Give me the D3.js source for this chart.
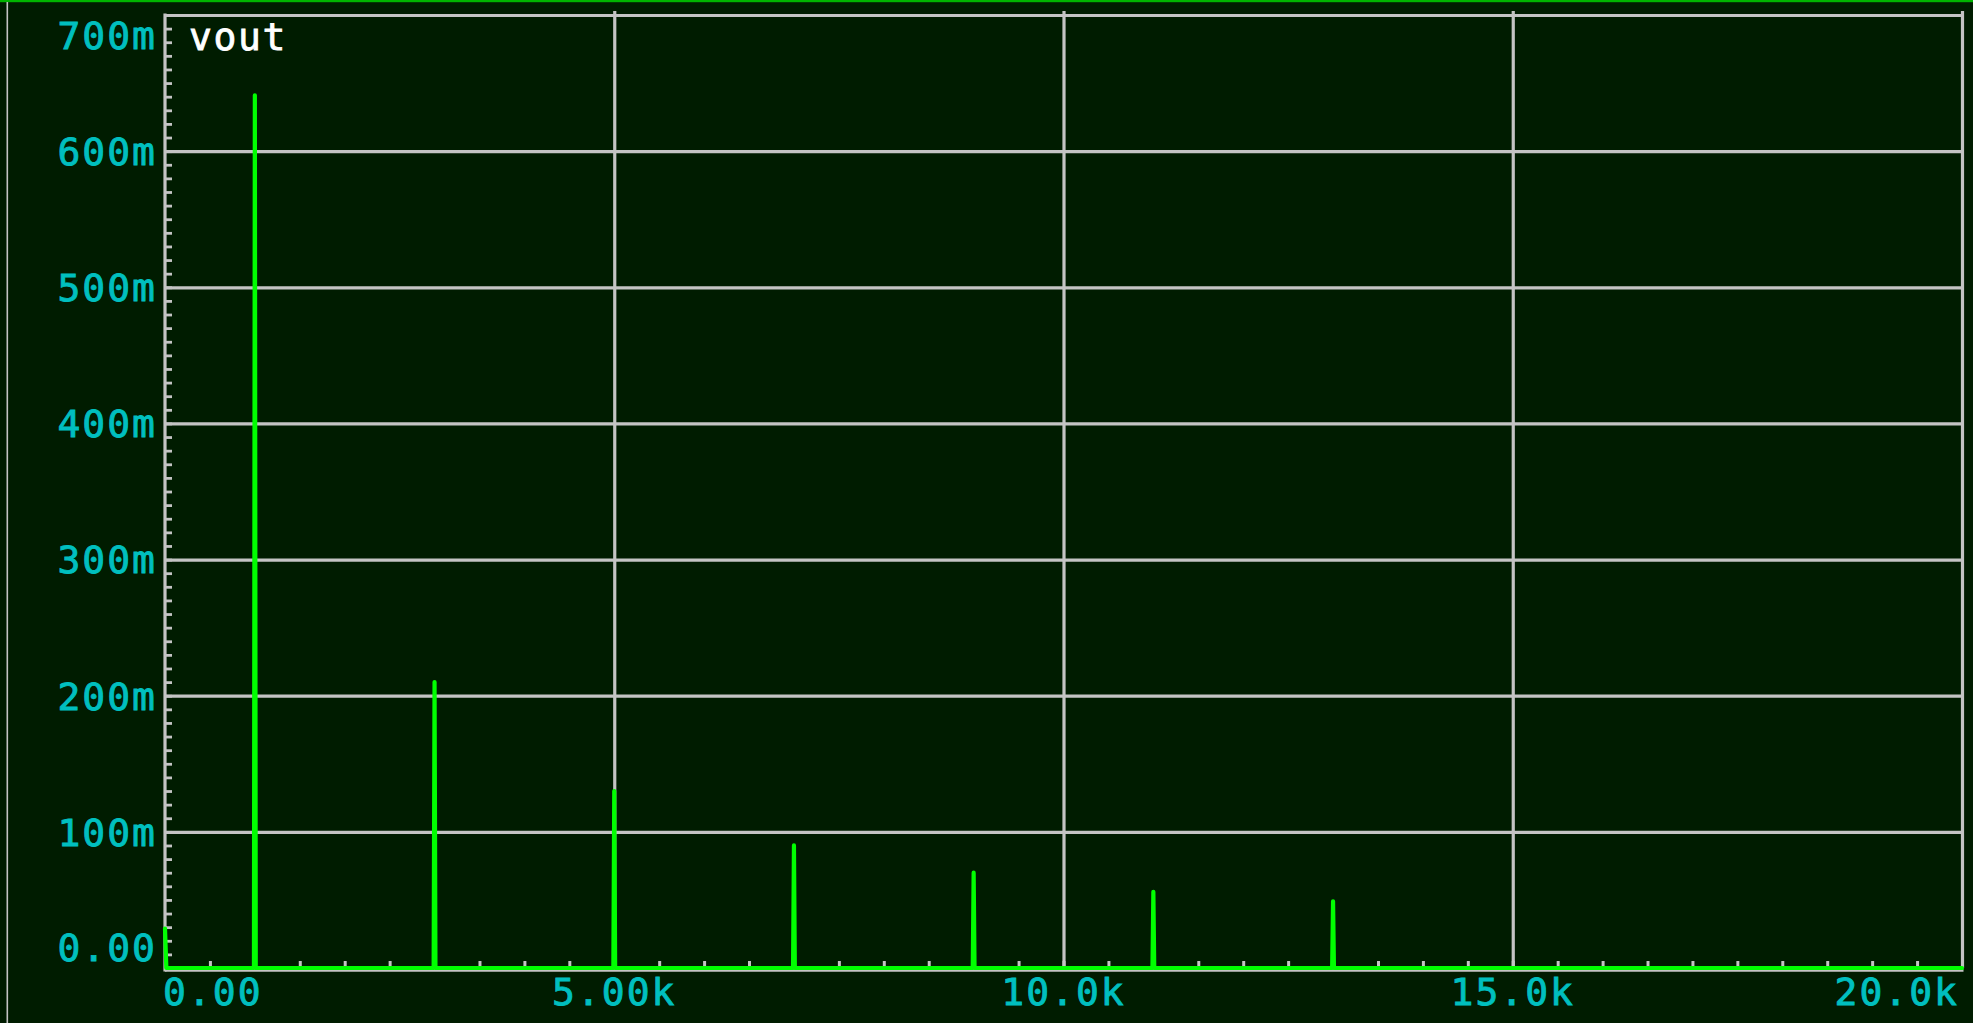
<!DOCTYPE html>
<html>
<head>
<meta charset="utf-8">
<script src="https://cdn.jsdelivr.net/npm/d3@7/dist/d3.min.js"></script>
<style>
  html, body { margin: 0; padding: 0; background: #001c00; overflow: hidden; }
  svg { display: block; }
  text { font-family: "DejaVu Sans Mono", monospace; }
</style>
</head>
<body>
<script>
// Spectrum of vout: sample points of the trace (Hz, V)
const traceFreq = [0, 15, 990, 1000, 1010, 2990, 3000, 3010, 4990, 5000, 5010,
                   6990, 7000, 7010, 8990, 9000, 9010, 10990, 11000, 11010,
                   12990, 13000, 13010, 20000];
const traceMag  = [0.029, 0, 0, 0.641, 0, 0, 0.210, 0, 0, 0.130, 0,
                   0, 0.090, 0, 0, 0.070, 0, 0, 0.056, 0,
                   0, 0.049, 0, 0];

// Axis ticks and labels
const yMajorValues = [0, 0.1, 0.2, 0.3, 0.4, 0.5, 0.6, 0.7];
const yTickLabels  = ["0.00", "100m", "200m", "300m", "400m", "500m", "600m", "700m"];
const xMajorValues = [0, 5000, 10000, 15000, 20000];
const xTickLabels  = ["0.00", "5.00k", "10.0k", "15.0k", "20.0k"];
const traceName = "vout";

const W = 1973, H = 1023;
const plotLeft = 165, plotRight = 1962, plotTop = 15, zeroY = 968;
const grid = "#c4c4c4", labelColor = "#00bfbf", traceColor = "#00ff00";

const x = d3.scaleLinear().domain([0, 20000]).range([plotLeft, plotRight]);
const y = d3.scaleLinear().domain([0, 0.7]).range([zeroY, plotTop]);

const svg = d3.select("body").append("svg")
  .attr("width", W).attr("height", H);

svg.append("rect").attr("width", W).attr("height", H).attr("fill", "#001c00");

// window frame: green strip on top, thin gray rule on the left
svg.append("rect").attr("x", 0).attr("y", 0).attr("width", W).attr("height", 2.2).attr("fill", "#00b400");
svg.append("rect").attr("x", 6.5).attr("y", 2).attr("width", 1.6).attr("height", H).attr("fill", grid);

// horizontal grid lines at each 100m
svg.append("g")
  .attr("transform", `translate(${plotLeft},0)`)
  .call(d3.axisRight(y).tickValues(yMajorValues.slice(1)).tickSize(plotRight - plotLeft).tickFormat(""))
  .call(g => g.select(".domain").remove())
  .call(g => g.selectAll("line").attr("stroke", grid).attr("stroke-width", 3.2));

// vertical grid lines at each 5k
svg.append("g")
  .attr("transform", `translate(0,${zeroY})`)
  .call(d3.axisTop(x).tickValues(xMajorValues.slice(1)).tickSize(zeroY - plotTop + 4).tickFormat(""))
  .call(g => g.select(".domain").remove())
  .call(g => g.selectAll("line").attr("stroke", grid).attr("stroke-width", 3.2));

// minor ticks on the y axis (every 10m) drawn inside the plot
svg.append("g")
  .attr("transform", `translate(${plotLeft},0)`)
  .call(d3.axisRight(y).tickValues(d3.range(0, 71).map(i => i / 100)).tickSize(7).tickFormat(""))
  .call(g => g.select(".domain").remove())
  .call(g => g.selectAll("line").attr("stroke", grid).attr("stroke-width", 2.8));

// minor ticks on the x axis (every 500 Hz)
svg.append("g")
  .attr("transform", `translate(0,${zeroY - 1})`)
  .call(d3.axisTop(x).tickValues(d3.range(1, 40).map(i => i * 500)).tickSize(6).tickFormat(""))
  .call(g => g.select(".domain").remove())
  .call(g => g.selectAll("line").attr("stroke", grid).attr("stroke-width", 3));

// axis lines
svg.append("line").attr("x1", plotLeft).attr("x2", plotLeft).attr("y1", plotTop - 1.5).attr("y2", zeroY + 3.5)
  .attr("stroke", grid).attr("stroke-width", 3.2);
svg.append("line").attr("x1", plotLeft).attr("x2", plotRight + 1.5).attr("y1", zeroY + 2.5).attr("y2", zeroY + 2.5)
  .attr("stroke", grid).attr("stroke-width", 2.5);

// the trace
const pts = traceFreq.map((f, i) => [f, traceMag[i]]);
svg.append("path")
  .datum(pts)
  .attr("fill", "none")
  .attr("stroke", traceColor)
  .attr("stroke-width", 4.2)
  .attr("stroke-linejoin", "round")
  .attr("stroke-linecap", "round")
  .attr("d", d3.line().x(d => x(d[0])).y(d => y(d[1])));

// y labels (right aligned, kept inside the window at the ends)
const fs = 38, cap = 0.729 * fs;
svg.append("g").selectAll("text")
  .data(yMajorValues)
  .join("text")
  .attr("x", 157)
  .attr("y", d => Math.min(Math.max(y(d), 35), 947) + cap / 2)
  .attr("text-anchor", "end")
  .attr("font-size", fs)
  .attr("letter-spacing", 2)
  .attr("fill", labelColor)
  .attr("stroke", labelColor)
  .attr("stroke-width", 0.9)
  .text((d, i) => yTickLabels[i]);

// x labels
svg.append("g").selectAll("text")
  .data(xMajorValues)
  .join("text")
  .attr("x", (d, i) => i === 0 ? plotLeft - 2 : i === xMajorValues.length - 1 ? plotRight - 3 : x(d))
  .attr("y", 1005)
  .attr("text-anchor", (d, i) => i === 0 ? "start" : i === xMajorValues.length - 1 ? "end" : "middle")
  .attr("font-size", fs)
  .attr("letter-spacing", 2)
  .attr("fill", labelColor)
  .attr("stroke", labelColor)
  .attr("stroke-width", 0.9)
  .text((d, i) => xTickLabels[i]);

// trace name
svg.append("text")
  .attr("x", 189).attr("y", 50)
  .attr("font-size", fs)
  .attr("letter-spacing", 1.6)
  .attr("fill", "#ffffff")
  .attr("stroke", "#ffffff")
  .attr("stroke-width", 0.8)
  .text(traceName);
</script>
</body>
</html>
